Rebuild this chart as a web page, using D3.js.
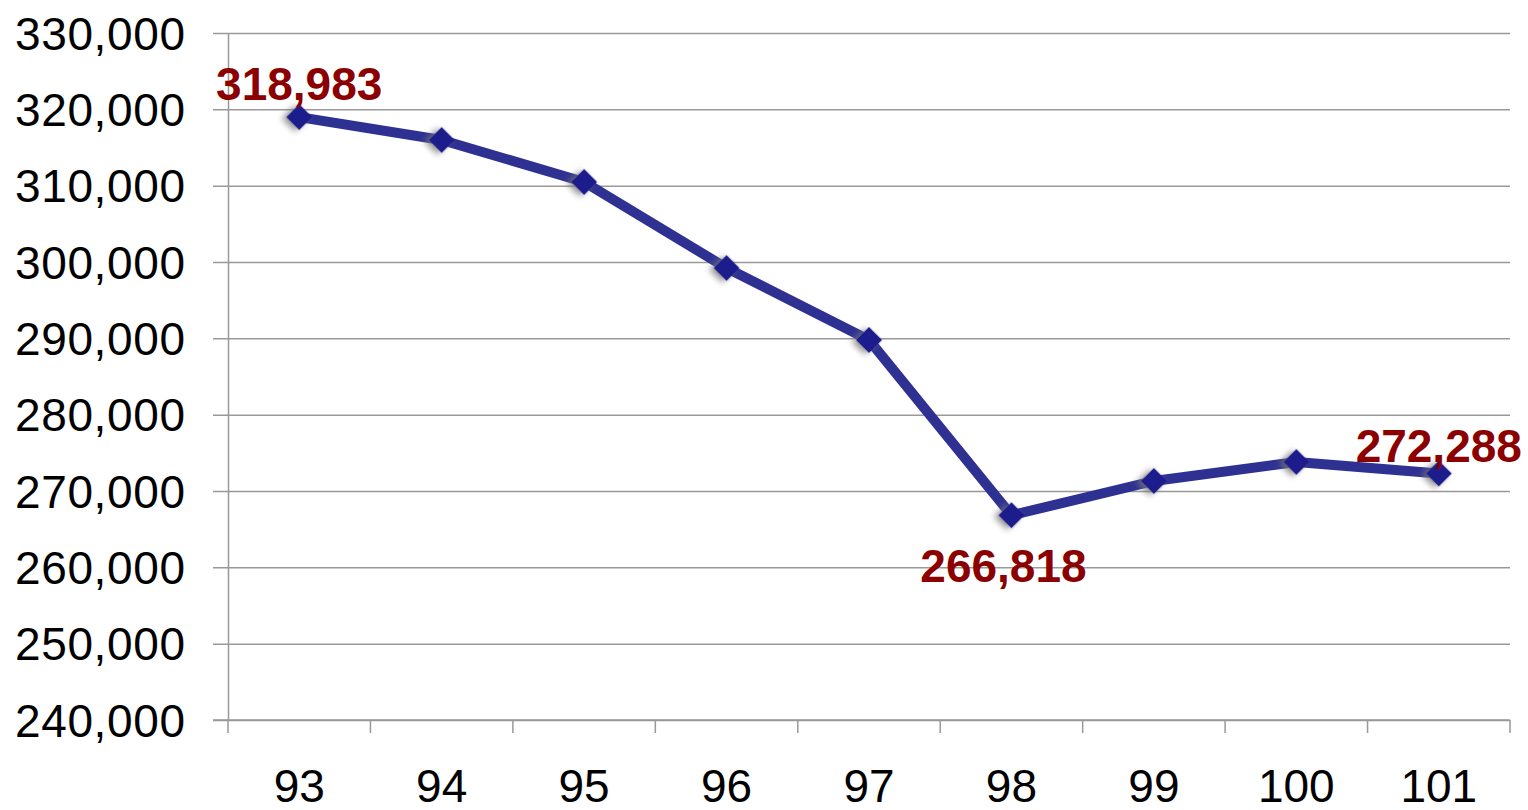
<!DOCTYPE html>
<html lang="en">
<head>
<meta charset="UTF-8">
<title>Line</title>
<script src="https://cdn.jsdelivr.net/npm/d3@7"></script>
<style>
  body { margin: 0; background: #fff; }
</style>
</head>
<body>
<div id="chart"></div>
<script>
const years = ["93", "94", "95", "96", "97", "98", "99", "100", "101"]
const values = [318983, 315980, 310480, 299210, 289780, 266818, 271310, 273800, 272288]
const yTicks = [240000, 250000, 260000, 270000, 280000, 290000, 300000, 310000, 320000, 330000]
// which points carry a label, and where it sits
const labelled = [0, 5, 8]
const labelDy = {0: -17, 5: 67, 8: -12}

const width = 1528
const height = 810
const plotL = 228, plotR = 1510, plotT = 33, plotB = 720

const x = d3.scaleBand().domain(years).range([plotL, plotR])
const y = d3.scaleLinear().domain([240000, 330000]).range([plotB, plotT])
const fmt = d3.format(",")

const svg = d3.select("#chart").append("svg")
    .attr("width", width)
    .attr("height", height)

const defs = svg.append("defs")
const shadow = defs.append("filter").attr("id", "shadow")
    .attr("x", "-50%").attr("y", "-50%").attr("width", "200%").attr("height", "200%")
shadow.append("feDropShadow")
    .attr("dx", -2).attr("dy", 4).attr("stdDeviation", 3)
    .attr("flood-color", "#777").attr("flood-opacity", 0.8)

// gridlines + y axis
svg.append("g")
    .attr("transform", `translate(${plotL},0)`)
    .call(d3.axisLeft(y).tickValues(yTicks).tickFormat(fmt)
        .tickSize(-(plotR - plotL)).tickSizeOuter(0))
    .call(g => g.select(".domain").attr("stroke", "#999").attr("stroke-width", 1.5))
    .call(g => g.selectAll(".tick line").attr("stroke", "#999").attr("stroke-width", 1.5)
        .attr("x1", -15))
    .call(g => g.selectAll(".tick text")
        .attr("x", -43)
        .attr("text-anchor", "end")
        .attr("dy", "0.35em")
        .attr("font-family", "Liberation Sans, Arial, sans-serif")
        .attr("font-size", 46)
        .attr("textLength", 170)
        .attr("fill", "#000"))

// x axis
const xAxis = svg.append("g").attr("transform", `translate(0,${plotB})`)
xAxis.append("line")
    .attr("x1", plotL - 15).attr("x2", plotR)
    .attr("stroke", "#999").attr("stroke-width", 1.5)
xAxis.selectAll(".xtick")
    .data(years.concat([null]))
    .enter().append("line")
    .attr("x1", (d, i) => plotL + i * x.step())
    .attr("x2", (d, i) => plotL + i * x.step())
    .attr("y1", 0).attr("y2", 13)
    .attr("stroke", "#999").attr("stroke-width", 1.5)
xAxis.selectAll(".xlabel")
    .data(years)
    .enter().append("text")
    .attr("x", d => x(d) + x.bandwidth() / 2)
    .attr("y", 82)
    .attr("text-anchor", "middle")
    .attr("font-family", "Liberation Sans, Arial, sans-serif")
    .attr("font-size", 46)
    .text(d => d)

const cx = (d, i) => x(years[i]) + x.bandwidth() / 2

svg.append("path")
    .datum(values)
    .attr("fill", "none")
    .attr("stroke", "#2E3192")
    .attr("stroke-width", 10)
    .attr("stroke-linejoin", "round")
    .attr("d", d3.line().x(cx).y(d => y(d)))

svg.append("g")
    .selectAll("path")
    .data(values)
    .enter().append("path")
    .attr("d", d3.symbol().type(d3.symbolSquare).size(340))
    .attr("transform", (d, i) => `translate(${cx(d, i)},${y(d)}) rotate(45)`)
    .attr("fill", "#1F1F8C")
    .attr("filter", "url(#shadow)")

svg.append("g")
    .selectAll("text")
    .data(labelled)
    .enter().append("text")
    .attr("x", i => cx(values[i], i) + (i === 5 ? -8 : 0))
    .attr("y", i => y(values[i]) + labelDy[i])
    .attr("text-anchor", "middle")
    .attr("font-family", "Liberation Sans, Arial, sans-serif")
    .attr("font-weight", "bold")
    .attr("font-size", 46)
    .attr("fill", "#8B0000")
    .text(i => fmt(values[i]))
</script>
</body>
</html>
